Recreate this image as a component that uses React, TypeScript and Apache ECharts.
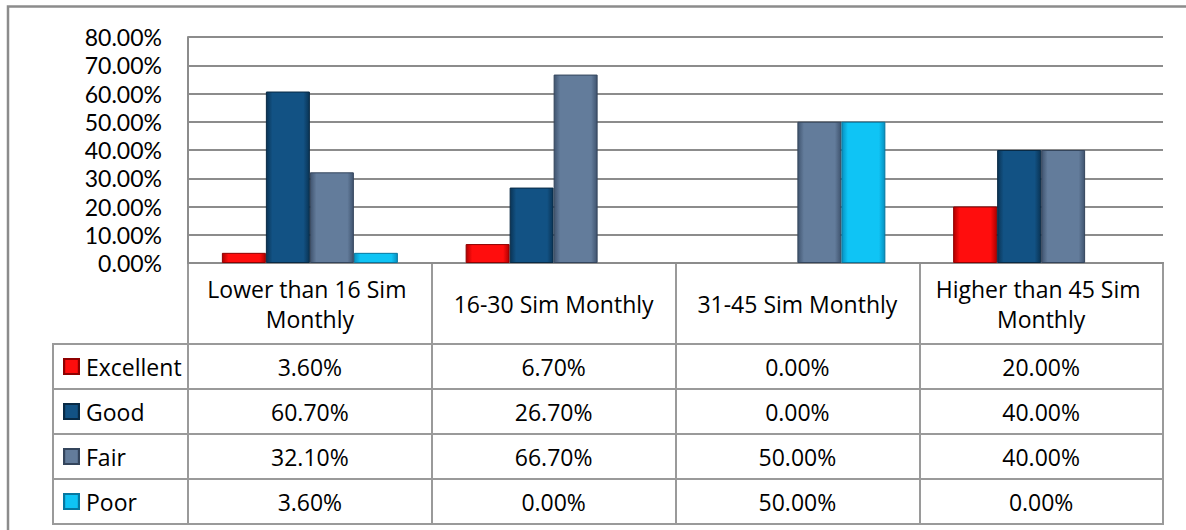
import React, { useEffect, useRef } from "react";
import * as echarts from "echarts";

const categories = [
  "Lower than 16 Sim Monthly",
  "16-30 Sim Monthly",
  "31-45 Sim Monthly",
  "Higher than 45 Sim Monthly",
];
const seriesNames = ["Excellent", "Good", "Fair", "Poor"];
const excellent = [0.036, 0.067, 0.0, 0.2];
const good = [0.607, 0.267, 0.0, 0.4];
const fair = [0.321, 0.667, 0.5, 0.4];
const poor = [0.036, 0.0, 0.5, 0.0];
const yTicks = [0, 0.1, 0.2, 0.3, 0.4, 0.5, 0.6, 0.7, 0.8];

const values = [excellent, good, fair, poor];
const palette = [
  { main: "#ff0d0d", edge: "#b00000", border: "#8f0000" },
  { main: "#125284", edge: "#0a3455", border: "#082a45" },
  { main: "#637c9b", edge: "#40546f", border: "#34455c" },
  { main: "#0fc4f5", edge: "#0890c0", border: "#0677a0" },
];

const FONT = "Open Sans";
const YFONT = "Lato";
const LINE = "#8c8c8c";
const TLINE = "#9a9a9a";
const pct = (v: number) => (v * 100).toFixed(2) + "%";

export default function App() {
  const ref = useRef<HTMLDivElement>(null);
  useEffect(() => {
    if (!ref.current) return;
    const chart = echarts.init(ref.current, null, { renderer: "svg" });

    const grad = (c: { main: string; edge: string }) =>
      new echarts.graphic.LinearGradient(0, 0, 1, 0, [
        { offset: 0, color: c.edge },
        { offset: 0.14, color: c.main },
        { offset: 0.86, color: c.main },
        { offset: 1, color: c.edge },
      ]);

    const barSeries = seriesNames.map((name, i) => ({
      name,
      type: "bar",
      xAxisIndex: 0,
      yAxisIndex: 0,
      barGap: "0%",
      barCategoryGap: "27.8%",
      itemStyle: {
        color: grad(palette[i]),
        borderColor: palette[i].border,
        borderWidth: 1,
      },
      data: values[i].map((v) =>
        v === 0 ? { value: v, itemStyle: { borderWidth: 0 } } : v
      ),
    }));

    const cellData: any[] = [];
    seriesNames.forEach((_name, s) => {
      categories.forEach((_c, c) => {
        cellData.push([c, s, values[s][c]]);
      });
    });

    const option: any = {
      animation: false,
      textStyle: { fontFamily: FONT },
      graphic: [
        {
          type: "rect",
          shape: { x: 8, y: 6.5, width: 1400, height: 700 },
          style: { fill: "none", stroke: LINE, lineWidth: 2.5 },
          silent: true,
        },
      ],
      legend: {
        orient: "vertical",
        left: 63,
        top: 355,
        padding: 0,
        itemWidth: 15,
        itemHeight: 15,
        itemGap: 22,
        icon: "rect",
        data: seriesNames,
        selectedMode: false,
        textStyle: {
          fontFamily: FONT,
          fontSize: 23,
          lineHeight: 23,
          color: "#000",
          padding: [0, 0, 0, 2],
        },
      },
      grid: [
        { left: 188, top: 37, width: 975, height: 226 },
        {
          left: 188,
          top: 263,
          width: 975,
          height: 81,
          show: true,
          borderColor: TLINE,
          borderWidth: 2,
        },
        {
          left: 188,
          top: 344,
          width: 975,
          height: 180,
          show: true,
          borderColor: TLINE,
          borderWidth: 2,
        },
        {
          left: 53,
          top: 344,
          width: 135,
          height: 180,
          show: true,
          borderColor: TLINE,
          borderWidth: 2,
        },
      ],
      xAxis: [
        {
          type: "category",
          gridIndex: 0,
          data: categories,
          axisLine: { show: true, lineStyle: { color: LINE, width: 2 } },
          axisTick: { show: false },
          axisLabel: {
            interval: 0,
            margin: 41,
            verticalAlign: "middle",
            lineHeight: 30,
            fontSize: 23,
            fontFamily: FONT,
            color: "#000",
            width: 230,
            overflow: "break",
          },
        },
        {
          type: "category",
          gridIndex: 1,
          data: categories,
          axisLine: { show: false },
          axisTick: { show: false },
          axisLabel: { show: false },
          splitLine: { show: true, lineStyle: { color: TLINE, width: 2 } },
        },
        {
          type: "category",
          gridIndex: 2,
          data: categories,
          axisLine: { show: false },
          axisTick: { show: false },
          axisLabel: { show: false },
          splitLine: { show: true, lineStyle: { color: TLINE, width: 2 } },
        },
        {
          type: "category",
          gridIndex: 3,
          data: [""],
          show: false,
        },
      ],
      yAxis: [
        {
          type: "value",
          gridIndex: 0,
          min: 0,
          max: yTicks[yTicks.length - 1],
          interval: 0.1,
          axisLine: { show: true, lineStyle: { color: LINE, width: 2 } },
          axisTick: { show: false },
          axisLabel: {
            margin: 26,
            fontSize: 23,
            lineHeight: 23,
            fontFamily: YFONT,
            color: "#000",
            formatter: (v: number) => pct(v),
          },
          splitLine: { show: true, lineStyle: { color: LINE, width: 2 } },
        },
        {
          type: "category",
          gridIndex: 1,
          data: [""],
          show: false,
        },
        {
          type: "category",
          gridIndex: 2,
          data: seriesNames,
          inverse: true,
          axisLine: { show: false },
          axisTick: { show: false },
          axisLabel: { show: false },
          splitLine: { show: true, lineStyle: { color: TLINE, width: 2 } },
        },
        {
          type: "category",
          gridIndex: 3,
          data: seriesNames,
          inverse: true,
          axisLine: { show: false },
          axisTick: { show: false },
          axisLabel: { show: false },
          splitLine: { show: true, lineStyle: { color: TLINE, width: 2 } },
        },
      ],
      series: [
        ...barSeries,
        {
          name: "table",
          type: "custom",
          xAxisIndex: 2,
          yAxisIndex: 2,
          silent: true,
          encode: { x: 0, y: 1 },
          data: cellData,
          renderItem: (_params: any, api: any) => {
            const p = api.coord([api.value(0), api.value(1)]);
            return {
              type: "text",
              x: p[0],
              y: p[1],
              style: {
                text: pct(api.value(2)),
                align: "center",
                verticalAlign: "middle",
                fontSize: 23,
                fontFamily: FONT,
                fill: "#000",
              },
            };
          },
        },
      ],
    };

    chart.setOption(option);
    return () => chart.dispose();
  }, []);

  return (
    <div
      ref={ref}
      style={{ position: "absolute", left: 0, top: 0, width: 1186, height: 530, background: "#fff" }}
    />
  );
}
